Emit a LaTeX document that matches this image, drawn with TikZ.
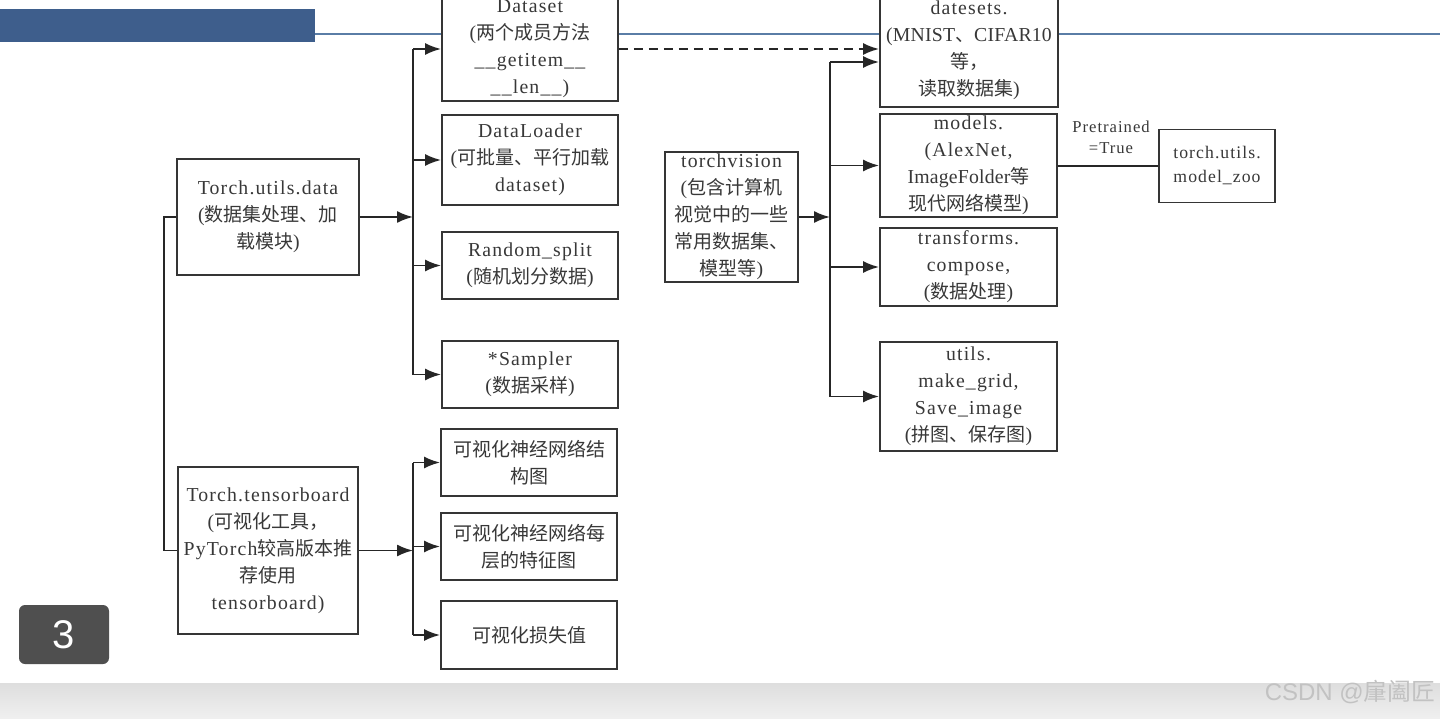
\documentclass[tikz,border=0pt]{standalone}
\usepackage{fontspec}
\setmainfont[LetterSpace=6,Scale=1.04]{Liberation Serif}
\newfontfamily\tightfont[LetterSpace=1,Scale=1.04]{Liberation Serif}
\newfontfamily\cjk{Noto Sans CJK SC}
\newfontfamily\badgefont{Liberation Sans}
\usetikzlibrary{arrows.meta}
\newcommand\zh[1]{{\cjk #1}}
\definecolor{txt}{HTML}{383838}
\definecolor{frame}{HTML}{353535}
\definecolor{barblue}{HTML}{3E5E8C}
\definecolor{lineblue}{HTML}{5A7DA6}
\begin{document}
\begin{tikzpicture}[x=1pt,y=-1pt,
  box/.style={draw=frame,line width=1.9pt,fill=white,inner sep=0pt,align=center,text=txt,
    font=\fontsize{19}{27}\selectfont},
  conn/.style={draw=black!85,line width=1.9pt},
  arr/.style={conn,-{Latex[length=16pt,width=12pt]}},
  lbl/.style={text=txt,align=center,inner sep=0pt,font=\fontsize{16}{21}\selectfont}]
\useasboundingbox (0,0) rectangle (1440,719);
\clip (0,0) rectangle (1440,719);
% background
\fill[white] (0,0) rectangle (1440,719);
\shade[top color=black!13,bottom color=black!6] (0,683) rectangle (1440,719);
% header bar and line
\fill[barblue] (0,9) rectangle (315,42);
\draw[lineblue,line width=2pt] (315,34) -- (1440,34);
% nodes
\node[box,minimum width=176pt,minimum height=104pt] (dataset) at (530,49)
  {Dataset\\(\zh{两个成员方法}\\\_\_getitem\_\_\\\_\_len\_\_)};
\node[box,minimum width=176pt,minimum height=90pt] (dataloader) at (530,160)
  {DataLoader\\(\zh{可批量、平行加载}\\dataset)};
\node[box,minimum width=176pt,minimum height=67pt] (randsplit) at (530,265.5)
  {Random\_split\\(\zh{随机划分数据})};
\node[box,minimum width=176pt,minimum height=67pt] (sampler) at (530,374.5)
  {*Sampler\\(\zh{数据采样})};
\node[box,minimum width=176pt,minimum height=67pt] (vis1) at (529,462.5)
  {\zh{可视化神经网络结}\\\zh{构图}};
\node[box,minimum width=176pt,minimum height=67pt] (vis2) at (529,546.5)
  {\zh{可视化神经网络每}\\\zh{层的特征图}};
\node[box,minimum width=176pt,minimum height=68pt] (vis3) at (529,635)
  {\zh{可视化损失值}};
\node[box,minimum width=182pt,minimum height=116pt] (tud) at (268,217)
  {Torch.utils.data\\(\zh{数据集处理、加}\\\zh{载模块})};
\node[box,minimum width=180pt,minimum height=167pt] (tb) at (268,550.5)
  {Torch.tensorboard\\(\zh{可视化工具，}\\PyTorch\zh{较高版本推}\\\zh{荐使用}\\tensorboard)};
\node[box,minimum width=133pt,minimum height=130pt] (tv) at (731.5,217)
  {torchvision\\(\zh{包含计算机}\\\zh{视觉中的一些}\\\zh{常用数据集、}\\\zh{模型等})};
\node[box,minimum width=178pt,minimum height=114pt] (dsets) at (969,50)
  {datesets.\\{\tightfont(MNIST\zh{、}CIFAR10}\\\zh{等，}\\\zh{读取数据集})};
\node[box,minimum width=177pt,minimum height=103pt] (models) at (968.5,165.5)
  {models.\\(AlexNet,\\{\tightfont ImageFolder}\zh{等}\\\zh{现代网络模型})};
\node[box,minimum width=177pt,minimum height=78pt] (transf) at (968.5,267)
  {transforms.\\compose,\\(\zh{数据处理})};
\node[box,minimum width=177pt,minimum height=109pt] (utils) at (968.5,396.5)
  {utils.\\make\_grid,\\Save\_image\\(\zh{拼图、保存图})};
\node[box,minimum width=116pt,minimum height=73pt,font=\fontsize{17}{24}\selectfont] (zoo) at (1217,166)
  {torch.utils.\\model\_zoo};
\node[lbl] (pre) at (1111,137) {Pretrained\\=True};
% junctions
\coordinate (j1) at (413,217);
\coordinate (j2) at (413,550.5);
\coordinate (j3) at (830,217);
% left trunk
\draw[conn] (tud.west) -- ++(-12,0) |- (tb.west);
% torch.utils.data branch
\draw[arr] (tud.east) -- (j1);
\draw[conn] (dataset.west -| j1) -- (sampler.west -| j1);
\draw[arr] (dataset.west -| j1) -- (dataset.west);
\draw[arr] (dataloader.west -| j1) -- (dataloader.west);
\draw[arr] (randsplit.west -| j1) -- (randsplit.west);
\draw[arr] (sampler.west -| j1) -- (sampler.west);
% tensorboard branch
\draw[arr] (tb.east) -- (j2);
\draw[conn] (vis1.west -| j2) -- (vis3.west -| j2);
\draw[arr] (vis1.west -| j2) -- (vis1.west);
\draw[arr] (vis2.west -| j2) -- (vis2.west);
\draw[arr] (vis3.west -| j2) -- (vis3.west);
% dashed dataset -> datasets
\draw[arr,dashed,dash pattern=on 9pt off 6pt] (dataset.east) -- (dataset.east -| dsets.west);
% torchvision branch
\coordinate (d1) at (830,62);
\draw[arr] (tv.east) -- (j3);
\draw[conn] (d1) -- (utils.west -| j3);
\draw[arr] (d1) -- (d1 -| dsets.west);
\draw[arr] (models.west -| j3) -- (models.west);
\draw[arr] (transf.west -| j3) -- (transf.west);
\draw[arr] (utils.west -| j3) -- (utils.west);
% models -> model_zoo
\draw[conn] (zoo.west -| models.east) -- (zoo.west);
% badge
\node[fill=black!69,rounded corners=6pt,minimum width=90pt,minimum height=59pt,inner sep=0pt,
  text=white,font=\badgefont\fontsize{40}{40}\selectfont] (badge) at (64,634.5) {3};
% watermark
\node[text=black!24,inner sep=0pt,anchor=east,font=\badgefont\fontsize{24}{24}\selectfont] (wm) at (1436,692)
  {CSDN @\zh{肁阖匠}};
\end{tikzpicture}
\end{document}
